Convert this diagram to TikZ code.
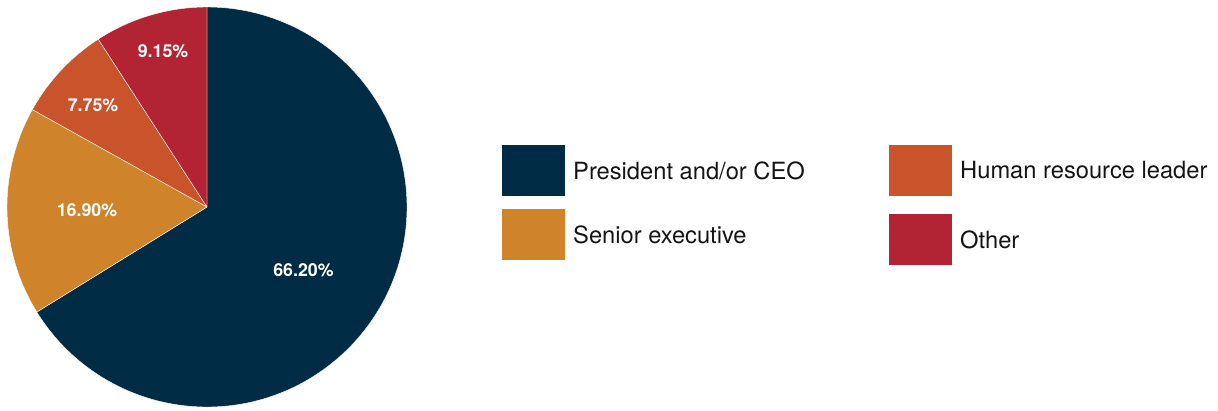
\documentclass[tikz,border=0pt]{standalone}
\usepackage{fontspec}
\setmainfont{TeX Gyre Heros}
\definecolor{cNavy}{RGB}{0,43,69}
\definecolor{cOrange}{RGB}{207,131,42}
\definecolor{cRust}{RGB}{201,83,43}
\definecolor{cRed}{RGB}{178,36,51}
\tikzset{
  slice/.style={draw=white, line width=0.4pt, line join=round},
  pct/.style={text=white, font=\fontsize{17.8}{20}\selectfont\bfseries, inner sep=0pt},
  swatch/.style={minimum width=63pt, minimum height=51pt, inner sep=0pt, draw=none},
  legtext/.style={anchor=west, font=\fontsize{23.7}{27}\selectfont, inner sep=0pt, text=black!92},
}
\begin{document}
\begin{tikzpicture}[x=1pt,y=-1pt]
\useasboundingbox (0,0) rectangle (1218,410);
\coordinate (c) at (207,207);
% slices (y axis flipped)
\fill[cNavy, slice] (c) -- ++(-90:200) arc[start angle=-90, end angle=-90+238.32, radius=200] -- cycle;
\fill[cOrange, slice] (c) -- ++(148.32:200) arc[start angle=148.32, end angle=209.16, radius=200] -- cycle;
\fill[cRust, slice] (c) -- ++(209.16:200) arc[start angle=209.16, end angle=237.06, radius=200] -- cycle;
\fill[cRed, slice] (c) -- ++(237.06:200) arc[start angle=237.06, end angle=270, radius=200] -- cycle;
% labels
\node[pct] (l1) at (303.5,270) {66.20\%};
\node[pct] (l2) at (87,210) {16.90\%};
\node[pct] (l3) at (93,105) {7.75\%};
\node[pct] (l4) at (163,51) {9.15\%};
% legend
\node[swatch, fill=cNavy] (s1) at (533.5,170.5) {};
\node[swatch, fill=cOrange] (s2) at (533.5,234.5) {};
\node[swatch, fill=cRust] (s3) at (920.5,170.5) {};
\node[swatch, fill=cRed] (s4) at (920.5,239.5) {};
\node[legtext] (t1) at (573,170.5) {President and/or CEO};
\node[legtext] (t2) at (573,235) {Senior executive};
\node[legtext] (t3) at (960,170.5) {Human resource leader};
\node[legtext] (t4) at (960,240) {Other};
\end{tikzpicture}
\end{document}
